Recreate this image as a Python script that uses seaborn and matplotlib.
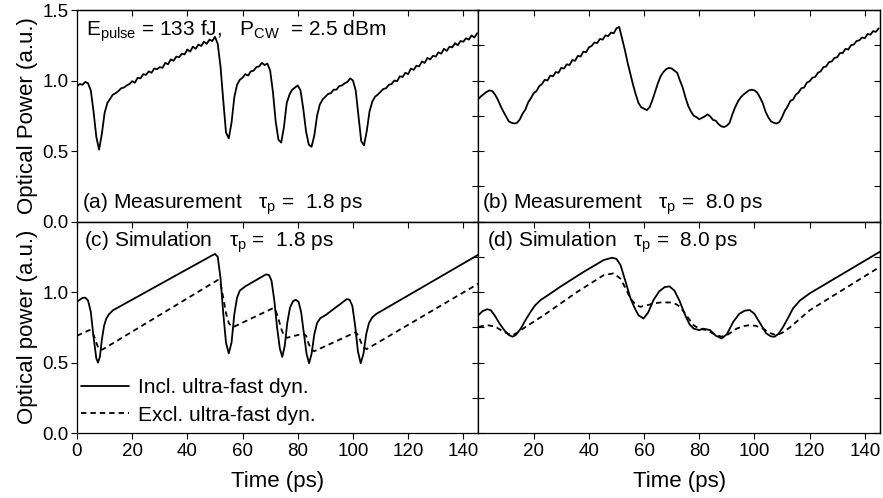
import numpy as np
import pandas as pd
import matplotlib
matplotlib.use("Agg")
import matplotlib.pyplot as plt
import seaborn as sns
from matplotlib.ticker import MultipleLocator, FixedLocator

# ---- data ----
# measured traces, one sample per ps (0..145 ps)
t_meas = np.arange(146)
meas_a = [0.96, 0.975, 0.97, 0.99, 0.98, 0.93, 0.78, 0.60, 0.51, 0.62,
          0.77, 0.84, 0.87, 0.90, 0.91, 0.925, 0.945, 0.95, 0.965, 0.975,
          0.995, 0.985, 1.02, 1.015, 1.045, 1.04, 1.065, 1.055, 1.085, 1.08,
          1.095, 1.09, 1.125, 1.115, 1.15, 1.14, 1.17, 1.165, 1.19, 1.185,
          1.22, 1.205, 1.24, 1.225, 1.255, 1.245, 1.275, 1.26, 1.29, 1.28,
          1.31, 1.26, 1.10, 0.86, 0.63, 0.59, 0.70, 0.88, 0.97, 1.005,
          1.02, 1.045, 1.035, 1.065, 1.07, 1.095, 1.10, 1.125, 1.11, 1.12,
          1.07, 0.92, 0.71, 0.58, 0.56, 0.67, 0.84, 0.90, 0.935, 0.95,
          0.965, 0.93, 0.80, 0.64, 0.545, 0.53, 0.61, 0.75, 0.83, 0.865,
          0.885, 0.905, 0.91, 0.935, 0.935, 0.96, 0.965, 0.98, 0.99, 1.015,
          1.00, 0.93, 0.75, 0.57, 0.54, 0.64, 0.78, 0.85, 0.885, 0.90,
          0.92, 0.94, 0.945, 0.97, 0.975, 1.0, 0.995, 1.03, 1.025, 1.055,
          1.045, 1.085, 1.075, 1.105, 1.10, 1.135, 1.125, 1.16, 1.15, 1.175,
          1.17, 1.2, 1.19, 1.225, 1.21, 1.24, 1.235, 1.265, 1.25, 1.28,
          1.275, 1.3, 1.29, 1.32, 1.305, 1.335]
meas_b = [0.87, 0.89, 0.905, 0.92, 0.93, 0.925, 0.90, 0.865, 0.82, 0.78,
          0.745, 0.71, 0.70, 0.695, 0.70, 0.725, 0.765, 0.795, 0.845, 0.875,
          0.91, 0.925, 0.96, 0.975, 1.005, 1.00, 1.035, 1.03, 1.06, 1.055,
          1.09, 1.085, 1.115, 1.11, 1.145, 1.14, 1.175, 1.17, 1.205, 1.20,
          1.235, 1.245, 1.27, 1.265, 1.295, 1.29, 1.32, 1.315, 1.34, 1.335,
          1.37, 1.38, 1.30, 1.22, 1.13, 1.05, 0.97, 0.90, 0.84, 0.81,
          0.80, 0.79, 0.81, 0.86, 0.92, 0.98, 1.03, 1.06, 1.08, 1.09,
          1.085, 1.07, 1.055, 1.00, 0.95, 0.88, 0.82, 0.78, 0.75, 0.74,
          0.725, 0.735, 0.745, 0.76, 0.745, 0.72, 0.715, 0.69, 0.675, 0.67,
          0.68, 0.70, 0.76, 0.81, 0.85, 0.88, 0.90, 0.915, 0.93, 0.935,
          0.93, 0.915, 0.88, 0.84, 0.78, 0.74, 0.71, 0.70, 0.695, 0.705,
          0.74, 0.785, 0.815, 0.855, 0.865, 0.90, 0.915, 0.945, 0.95, 0.985,
          0.995, 1.02, 1.025, 1.055, 1.065, 1.095, 1.10, 1.13, 1.135, 1.16,
          1.165, 1.195, 1.195, 1.225, 1.22, 1.25, 1.255, 1.28, 1.285, 1.305,
          1.30, 1.33, 1.325, 1.35, 1.345, 1.37]

# simulation (c), tau_p = 1.8 ps
t_c_incl = [0, 1, 2, 3, 4, 5, 6, 7, 7.6, 8.3, 9, 9.8, 10.6, 11.5, 13, 49, 50, 51,
            52, 53, 54, 55, 56, 57, 58, 59, 61, 68.5, 69.6, 70.5, 71.5, 72.5,
            73.5, 74.4, 75.3, 76.2, 77.2, 78.3, 79.3, 80.3, 81.2, 82.2, 83.2,
            84.1, 85, 86, 87, 88.2, 90, 97.8, 98.8, 99.8, 100.8, 101.8, 102.8,
            103.8, 104.8, 105.8, 107, 108.5, 145.5]
c_incl = [0.93, 0.945, 0.958, 0.96, 0.94, 0.86, 0.68, 0.53, 0.50, 0.54, 0.66,
          0.76, 0.81, 0.84, 0.87, 1.26, 1.27, 1.25, 1.10, 0.85, 0.64, 0.565,
          0.64, 0.84, 0.96, 1.01, 1.04, 1.125, 1.12, 1.08, 0.94, 0.75, 0.60,
          0.54, 0.62, 0.78, 0.89, 0.935, 0.945, 0.93, 0.86, 0.71, 0.56, 0.495,
          0.56, 0.70, 0.78, 0.815, 0.835, 0.95, 0.945, 0.90, 0.76, 0.58, 0.495,
          0.56, 0.70, 0.78, 0.82, 0.845, 1.265]
t_c_excl = [0, 4.5, 5.5, 6.3, 7, 7.7, 8.5, 9.5, 51, 52, 53, 54, 55, 56, 57, 71,
            72, 73, 74, 75, 76, 82, 83, 84, 85, 86, 101, 102, 103, 104, 105, 145.5]
c_excl = [0.69, 0.73, 0.72, 0.68, 0.64, 0.605, 0.59, 0.595, 1.085, 1.06, 0.96,
          0.85, 0.78, 0.755, 0.755, 0.885, 0.87, 0.81, 0.74, 0.69, 0.675, 0.705,
          0.69, 0.63, 0.59, 0.58, 0.715, 0.69, 0.64, 0.605, 0.595, 1.06]

# simulation (d), tau_p = 8.0 ps
t_d_incl = [0, 1.5, 3.2, 4.5, 6, 7.5, 9.3, 11, 12.3, 13.5, 15.3, 17, 18.9, 20.5,
            22.5, 25, 29.7, 38.2, 45.4, 48.4, 50, 51.5, 53.2, 55, 56.5, 58, 59.8,
            61.5, 63.4, 65.5, 67.5, 69.2, 71, 72.8, 74.8, 76.5, 78, 80, 81.5,
            83.9, 86, 88.1, 90, 92.3, 94.5, 96.5, 98.3, 100, 102, 104.3, 106,
            107.3, 108.8, 110.4, 112, 114, 116.5, 120, 145.5]
d_incl = [0.836, 0.865, 0.878, 0.87, 0.83, 0.78, 0.73, 0.695, 0.683, 0.695,
          0.74, 0.80, 0.86, 0.905, 0.943, 0.975, 1.038, 1.144, 1.227, 1.243,
          1.235, 1.19, 1.08, 0.96, 0.89, 0.835, 0.812, 0.855, 0.943, 1.005,
          1.035, 1.04, 1.01, 0.94, 0.84, 0.77, 0.74, 0.73, 0.74, 0.73, 0.69,
          0.671, 0.70, 0.788, 0.845, 0.868, 0.872, 0.845, 0.78, 0.706, 0.685,
          0.683, 0.705, 0.753, 0.81, 0.884, 0.94, 0.99, 1.286]
t_d_excl = [0, 3.2, 6, 8.1, 10.5, 12.3, 14, 16.5, 23.7, 35.7, 45.4, 48.9, 51.4,
            53.5, 55, 57, 58.6, 61, 63.4, 66, 69.4, 71.5, 73.1, 75.5, 77.9, 80,
            82.7, 85.5, 88.1, 90.5, 93.5, 96, 98.3, 100.5, 103.1, 105.5, 107.9,
            110, 112.6, 120, 145.5]
d_excl = [0.753, 0.765, 0.755, 0.73, 0.705, 0.694, 0.71, 0.745, 0.836, 1.0,
          1.12, 1.132, 1.096, 1.02, 0.954, 0.91, 0.895, 0.905, 0.919, 0.926,
          0.926, 0.915, 0.895, 0.83, 0.765, 0.74, 0.73, 0.70, 0.683, 0.70,
          0.74, 0.758, 0.765, 0.76, 0.74, 0.71, 0.694, 0.71, 0.745, 0.87, 1.179]

# ---- style ----
sns.set_style("ticks")
plt.rcParams['font.family'] = ['Liberation Sans', 'DejaVu Sans']
plt.rcParams['mathtext.fontset'] = 'custom'
plt.rcParams['mathtext.rm'] = 'Liberation Sans'
plt.rcParams['mathtext.it'] = 'Liberation Sans'
plt.rcParams['axes.linewidth'] = 0.9
for k in ('text.color', 'axes.labelcolor', 'xtick.color', 'ytick.color',
          'axes.edgecolor'):
    plt.rcParams[k] = 'black'

fs_tick = 13.5
fs_lab = 16
fs_txt = 15
lw = 1.3
dash = (0, (3.0, 2.2))

fig, axes = plt.subplots(2, 2, figsize=(8.83, 4.98), dpi=100)
fig.subplots_adjust(left=0.0872, right=0.9966, bottom=0.1305, top=0.9799,
                    wspace=0, hspace=0)
ax_a, ax_b = axes[0]
ax_c, ax_d = axes[1]

sns.lineplot(x=t_meas, y=meas_a, ax=ax_a, color='black', lw=lw)
sns.lineplot(x=t_meas, y=meas_b, ax=ax_b, color='black', lw=lw)
sns.lineplot(x=t_c_incl, y=c_incl, ax=ax_c, color='black', lw=lw,
             label='Incl. ultra-fast dyn.')
sns.lineplot(x=t_c_excl, y=c_excl, ax=ax_c, color='black', lw=lw,
             linestyle=dash, label='Excl. ultra-fast dyn.')
sns.lineplot(x=t_d_incl, y=d_incl, ax=ax_d, color='black', lw=lw)
sns.lineplot(x=t_d_excl, y=d_excl, ax=ax_d, color='black', lw=lw,
             linestyle=dash)

for ax in axes.flat:
    ax.set_xlim(0, 145.5)
    ax.set_ylim(0, 1.5)
    ax.set_xlabel('')
    ax.set_ylabel('')
    for s in ax.spines.values():
        s.set_visible(True)
        s.set_color('black')
    # top axis: inward ticks
    sx = ax.secondary_xaxis('top')
    sx.xaxis.set_major_locator(MultipleLocator(20))
    sx.tick_params(direction='in', length=4, width=0.8, labeltop=False)
    # right axis: inward ticks every 0.25
    sy = ax.secondary_yaxis('right')
    sy.yaxis.set_major_locator(MultipleLocator(0.25))
    sy.tick_params(direction='in', length=4, width=0.8, labelright=False)
    ax.xaxis.set_major_locator(MultipleLocator(20))
    ax.tick_params(labelsize=fs_tick, width=0.8, length=4)

# top panels: no bottom ticks / labels
for ax in (ax_a, ax_b):
    ax.tick_params(axis='x', bottom=False, labelbottom=False)

# left panels: outward y ticks with labels
ax_a.yaxis.set_major_locator(FixedLocator([0, 0.5, 1.0, 1.5]))
ax_c.yaxis.set_major_locator(FixedLocator([0, 0.5, 1.0]))
for ax in (ax_a, ax_c):
    ax.tick_params(axis='y', direction='out', pad=2)
    ax.yaxis.set_major_formatter(plt.FormatStrFormatter('%.1f'))

# right panels: inward y ticks, no labels
for ax in (ax_b, ax_d):
    ax.yaxis.set_major_locator(MultipleLocator(0.25))
    ax.tick_params(axis='y', direction='in', labelleft=False)

ax_c.xaxis.set_major_locator(FixedLocator(list(range(0, 141, 20))))
ax_d.xaxis.set_major_locator(FixedLocator(list(range(20, 141, 20))))
for ax in (ax_c, ax_d):
    ax.tick_params(axis='x', direction='out', pad=3)
    ax.set_xlabel('Time (ps)', fontsize=fs_lab, labelpad=8)

ax_a.set_ylabel('Optical Power (a.u.)', fontsize=fs_lab, labelpad=3)
ax_c.set_ylabel('Optical power (a.u.)', fontsize=fs_lab, labelpad=3)

# panel texts
ax_a.text(0.022, 0.88, r'E$_{\rm pulse}$ = 133 fJ,   P$_{\rm CW}$  = 2.5 dBm',
          transform=ax_a.transAxes, fontsize=fs_txt, va='baseline')
ax_a.text(0.012, 0.062, r'(a) Measurement   τ$_{\rm p}$ =  1.8 ps',
          transform=ax_a.transAxes, fontsize=fs_txt, va='baseline')
ax_b.text(0.008, 0.062, r'(b) Measurement   τ$_{\rm p}$ =  8.0 ps',
          transform=ax_b.transAxes, fontsize=fs_txt, va='baseline')
ax_c.text(0.017, 0.88, r'(c) Simulation   τ$_{\rm p}$ =  1.8 ps',
          transform=ax_c.transAxes, fontsize=fs_txt, va='baseline')
ax_d.text(0.022, 0.88, r'(d) Simulation   τ$_{\rm p}$ =  8.0 ps',
          transform=ax_d.transAxes, fontsize=fs_txt, va='baseline')

ax_c.legend(loc='lower left', bbox_to_anchor=(-0.02, -0.02), frameon=False,
            fontsize=fs_txt, handlelength=2.3, handletextpad=0.4,
            labelspacing=0.42, borderaxespad=0.2)

fig.savefig('out.png', dpi=100)
